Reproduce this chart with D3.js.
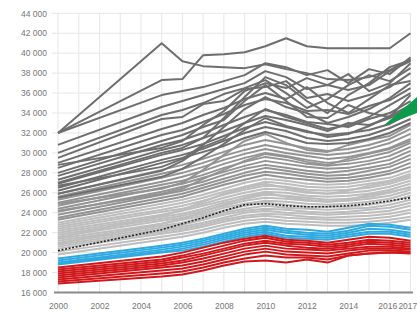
<!DOCTYPE html>
<html><head><meta charset="utf-8">
<script src="https://cdn.jsdelivr.net/npm/d3@7/dist/d3.min.js"></script>
<style>
html,body{margin:0;padding:0;background:#fff;}
svg{display:block;}
.tick text{font-family:"Liberation Sans",Arial,sans-serif;fill:#767676;}
</style></head>
<body>
<svg id="c" width="417" height="313"></svg>
<script>
// ---- data ----
const years = [2000, 2005, 2006, 2007, 2008, 2009, 2010, 2011, 2012, 2013, 2014, 2015, 2016, 2017];

const grayDark = [
  [32000, 41000, 39200, 38700, 38600, 38500, 38900, 38400, 38000, 37400, 37300, 37600, 38300, 39400],
  [32000, 37300, 37400, 39800, 39900, 40100, 40700, 41500, 40700, 40500, 40500, 40500, 40500, 42000],
  [32000, 35800, 36200, 36600, 37200, 37800, 39000, 38600, 37800, 38300, 37000, 38400, 37900, 39600],
  [30800, 34600, 35200, 35800, 36400, 37000, 38200, 37600, 36400, 36800, 36300, 36800, 38200, 39200],
  [30000, 33800, 34300, 35000, 35900, 36500, 37300, 36000, 34500, 35400, 36800, 37800, 37200, 38500],
  [29500, 33400, 33600, 34900, 35200, 36400, 36600, 37200, 35500, 35900, 35200, 35800, 36600, 38000],
  [29000, 32400, 33000, 33800, 34500, 35400, 36000, 35400, 36600, 35000, 34000, 35400, 36800, 37200],
  [28500, 31800, 32300, 33100, 33900, 34800, 35400, 35000, 34200, 34300, 33900, 34700, 35300, 36500],
  [28000, 31200, 31800, 32600, 33300, 35200, 36800, 35200, 33600, 33500, 34800, 34000, 33600, 35800],
  [27700, 30800, 31300, 32000, 32800, 33600, 34300, 33800, 33100, 32900, 32600, 33400, 34000, 35200],
  [27300, 30300, 30800, 31500, 32200, 33000, 33700, 33300, 32800, 32200, 33000, 32800, 33500, 34600],
  [26900, 29800, 30300, 30900, 31700, 32500, 33100, 32600, 32100, 31800, 32000, 32300, 32900, 34000],
  [26500, 29300, 29800, 30400, 31200, 32000, 32600, 32200, 31500, 31200, 31400, 31800, 32500, 33400],
  [26200, 29000, 29500, 30100, 30700, 31500, 32100, 31600, 31000, 30900, 31000, 31400, 32000, 33000],
  [25900, 28200, 29200, 30600, 31400, 33000, 34400, 33600, 33000, 32400, 32800, 33600, 34800, 36000],
  [25500, 27600, 28400, 29600, 30900, 32300, 33500, 32700, 32200, 31600, 31900, 32700, 33700, 34800],
  [27000, 30000, 30500, 31500, 33500, 35600, 37600, 36800, 35200, 34000, 35800, 37000, 38600, 39300],
  [28800, 30500, 31200, 32800, 34200, 36200, 37000, 36500, 37500, 36800, 37900, 36200, 37000, 39000],
  [26700, 28600, 29400, 30800, 32600, 34400, 35600, 34600, 34000, 33000, 33600, 34400, 35500, 37000]
];

const grayMid = [
  [25900, 28300, 28800, 29400, 30100, 30800, 31300, 30900, 30500, 30200, 30400, 30800, 31400, 32400],
  [25600, 27900, 28400, 29000, 29700, 30300, 30800, 30400, 30000, 29800, 30000, 30400, 31000, 31900],
  [25300, 27500, 28000, 28600, 29300, 29900, 30400, 30000, 29700, 29400, 29600, 30000, 30500, 31400],
  [25000, 27100, 27600, 28200, 28900, 29500, 30000, 29700, 29300, 29000, 29200, 29600, 30100, 31000],
  [24700, 26800, 27200, 27800, 28500, 29100, 29600, 29300, 28900, 28700, 28900, 29200, 29700, 30600],
  [24400, 26500, 26900, 27500, 28100, 28700, 29200, 28900, 28600, 28400, 28500, 28900, 29300, 30200],
  [24100, 26100, 26600, 27100, 27800, 28400, 28800, 28500, 28200, 28000, 28200, 28500, 28900, 29800],
  [23800, 25800, 26200, 26800, 27400, 28000, 28500, 28200, 27900, 27700, 27800, 28200, 28600, 29400],
  [23500, 25500, 25900, 26500, 27100, 27700, 28100, 27900, 27600, 27400, 27500, 27800, 28200, 29000],
  [23300, 25200, 25600, 26200, 26800, 27300, 27800, 27500, 27300, 27100, 27200, 27500, 27900, 28600],
  [24200, 25900, 26400, 27400, 28300, 29200, 29900, 29600, 29100, 28800, 29400, 29900, 30400, 31200],
  [24900, 26400, 27000, 28300, 29800, 31200, 31900, 31000, 30300, 30100, 30800, 31300, 31700, 32800]
];

const grayLight = [
  [23000, 24900, 25300, 25800, 26400, 27000, 27400, 27200, 26900, 26800, 26900, 27200, 27500, 28200],
  [22800, 24600, 25000, 25500, 26100, 26600, 27100, 26900, 26600, 26500, 26600, 26900, 27200, 27900],
  [22600, 24300, 24700, 25200, 25800, 26300, 26700, 26600, 26300, 26200, 26300, 26500, 26900, 27500],
  [22400, 24100, 24400, 24900, 25500, 26000, 26400, 26300, 26000, 25900, 26000, 26200, 26600, 27200],
  [22200, 23800, 24200, 24700, 25200, 25700, 26100, 26000, 25700, 25600, 25700, 25900, 26300, 26900],
  [22000, 23600, 23900, 24400, 25000, 25400, 25800, 25700, 25500, 25300, 25400, 25600, 26000, 26600],
  [21800, 23400, 23700, 24200, 24700, 25200, 25500, 25400, 25200, 25100, 25200, 25400, 25700, 26300],
  [21600, 23200, 23500, 23900, 24500, 24900, 25200, 25100, 24900, 24800, 24900, 25100, 25400, 26000],
  [21400, 22900, 23300, 23700, 24200, 24700, 25000, 24800, 24600, 24600, 24600, 24800, 25100, 25700],
  [21200, 22700, 23000, 23500, 24000, 24400, 24700, 24500, 24400, 24300, 24400, 24500, 24800, 25300],
  [21000, 22500, 22800, 23300, 23800, 24200, 24400, 24300, 24100, 24000, 24100, 24300, 24500, 25000],
  [20800, 22300, 22600, 23000, 23500, 24000, 24200, 24000, 23900, 23800, 23900, 24000, 24200, 24700],
  [20600, 22100, 22400, 22800, 23300, 23700, 23900, 23800, 23600, 23500, 23600, 23700, 23900, 24300],
  [20400, 21900, 22200, 22600, 23100, 23500, 23700, 23500, 23400, 23300, 23300, 23400, 23600, 24000],
  [20100, 21600, 21900, 22300, 22800, 23200, 23400, 23200, 23100, 23000, 23000, 23100, 23300, 23600],
  [19800, 21300, 21600, 22000, 22500, 22900, 23100, 22900, 22800, 22700, 22700, 22800, 23000, 23300],
  [21500, 23700, 24300, 25100, 25900, 26500, 26900, 26500, 26100, 25900, 26200, 26700, 27100, 27700],
  [20900, 22900, 23400, 24100, 24800, 25500, 26000, 25600, 25300, 25100, 25300, 25800, 26100, 26500]
];

const blueSeries = [
  [19400, 20700, 21000, 21400, 21900, 22400, 22700, 22400, 22300, 22100, 22500, 22900, 22800, 22500],
  [19200, 20500, 20800, 21200, 21700, 22200, 22500, 22200, 22000, 21900, 22200, 22700, 22600, 22300],
  [19000, 20300, 20600, 21000, 21500, 22000, 22300, 22000, 21800, 21700, 22000, 22400, 22300, 22000],
  [18900, 20100, 20400, 20800, 21300, 21800, 22100, 21700, 21600, 21500, 21800, 22100, 22100, 21800],
  [18800, 20000, 20200, 20600, 21100, 21600, 21900, 21500, 21400, 21300, 21600, 21900, 21900, 21600]
];

const redSeries = [
  [18500, 19600, 20000, 20500, 21000, 21400, 21700, 21300, 21200, 21000, 21300, 21600, 21500, 21200],
  [18300, 19300, 19700, 20200, 20700, 21200, 21500, 21100, 21000, 20800, 21000, 21300, 21200, 21000],
  [18100, 19100, 19500, 19900, 20400, 20900, 21200, 20900, 20800, 20600, 20800, 21100, 21000, 20800],
  [17900, 18900, 19200, 19700, 20200, 20700, 21000, 20700, 20500, 20400, 20600, 20900, 20800, 20600],
  [17700, 18700, 19000, 19400, 19900, 20400, 20700, 20400, 20300, 20200, 20400, 20600, 20600, 20400],
  [17500, 18500, 18700, 19100, 19600, 20100, 20400, 20100, 20000, 19900, 20200, 20400, 20400, 20300],
  [17300, 18200, 18400, 18800, 19300, 19800, 20100, 19800, 19700, 19600, 19900, 20200, 20200, 20100],
  [17100, 17900, 18100, 18500, 19000, 19400, 19700, 19500, 19500, 19300, 19700, 19900, 20000, 20000],
  [16900, 17600, 17800, 18200, 18700, 19100, 19200, 19000, 19300, 19000, 19700, 19900, 20000, 19900]
];

const average = [20200, 22300, 22900, 23500, 24200, 24800, 24900, 24700, 24600, 24600, 24700, 24900, 25200, 25500];

const yTicks = [16000, 18000, 20000, 22000, 24000, 26000, 28000, 30000, 32000, 34000, 36000, 38000, 40000, 42000, 44000];
const xTickYears = [2000, 2002, 2004, 2006, 2008, 2010, 2012, 2014, 2016, 2017];
const gridYears = [2000, 2001, 2002, 2003, 2004, 2005, 2006, 2007, 2008, 2009, 2010, 2011, 2012, 2013, 2014, 2015, 2016, 2017];

// ---- chart ----
const svg = d3.select("#c");
const x = d3.scaleLinear().domain([2000, 2017]).range([58, 410.5]);
const y = d3.scaleLinear().domain([16000, 44000]).range([292.5, 13.3]);
const loc = d3.formatLocale({decimal: ".", thousands: " ", grouping: [3], currency: ["", ""]});
const fmt = loc.format(",");

// gridlines
svg.append("g").selectAll("line").data(yTicks.slice(1)).join("line")
  .attr("x1", 52).attr("x2", 410.5).attr("y1", d => y(d)).attr("y2", d => y(d))
  .attr("stroke", "#e6e6e6").attr("stroke-width", 1);
svg.append("g").selectAll("line").data(gridYears).join("line")
  .attr("x1", d => x(d)).attr("x2", d => x(d)).attr("y1", y(44000)).attr("y2", y(16000))
  .attr("stroke", "#e6e6e6").attr("stroke-width", 1);

// axes
const ya = svg.append("g").attr("transform", "translate(47,0)")
  .call(d3.axisLeft(y).tickValues(yTicks).tickSize(0).tickPadding(0).tickFormat(fmt));
ya.select(".domain").remove();
ya.selectAll("text").attr("font-size", "8.5px");

const xa = svg.append("g").attr("transform", "translate(0,300)")
  .call(d3.axisBottom(x).tickValues(xTickYears).tickSize(0).tickPadding(3).tickFormat(d3.format("d")));
xa.select(".domain").remove();
xa.selectAll("text").attr("font-size", "8.5px");
xa.selectAll(".tick").filter(d => d === 2016).select("text").attr("x", -2.5);
xa.selectAll(".tick").filter(d => d === 2017).select("text").attr("text-anchor", "end").attr("x", 6.3);

const line = d3.line().x((d, i) => x(years[i])).y(d => y(d));

function draw(data, color, w) {
  svg.append("g").selectAll("path").data(data).join("path")
    .attr("d", line).attr("fill", "none").attr("stroke", color)
    .attr("stroke-width", w).attr("stroke-linejoin", "round");
}
draw(grayLight, "#bdbdbd", 2);
draw(grayMid, "#939393", 2);
draw(grayDark, "#6e6e6e", 2);
draw(blueSeries, "#2eaae1", 2);
draw(redSeries, "#d0181c", 2);

svg.append("path").datum(average).attr("d", line).attr("fill", "none")
  .attr("stroke", "#222").attr("stroke-width", 1.6).attr("stroke-dasharray", "2,1.6");

// bottom axis line
svg.append("line").attr("x1", 54).attr("x2", 413).attr("y1", y(16000)).attr("y2", y(16000))
  .attr("stroke", "#8a8a8a").attr("stroke-width", 2);

// green pointer
svg.append("path").attr("d", "M383,126L417,97L417,113Z").attr("fill", "#0d9a4c");
</script>
</body></html>
